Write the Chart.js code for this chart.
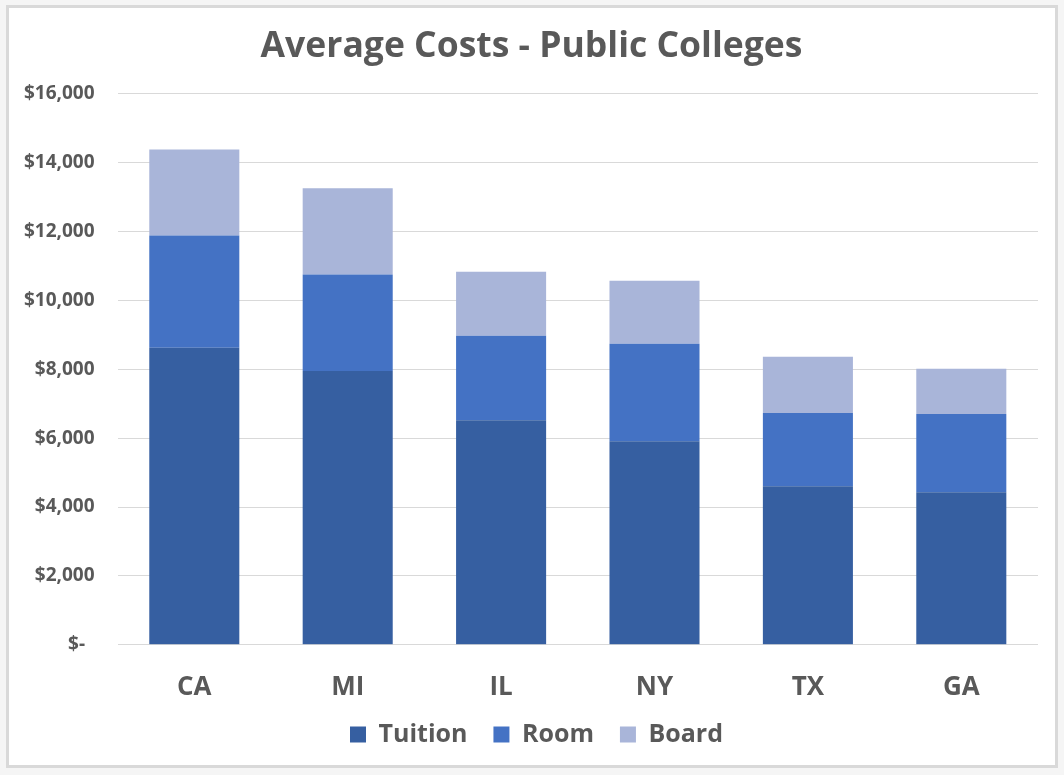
<!DOCTYPE html>
<html>
<head>
<meta charset="utf-8">
<script src="https://cdn.jsdelivr.net/npm/chart.js@4.4.1/dist/chart.umd.min.js"></script>
<style>
html,body{margin:0;padding:0;background:#f5f5f5;width:1064px;height:775px;overflow:hidden;}
#frame{position:absolute;left:6px;top:5px;width:1046px;height:757px;border:3px solid #d9d9d9;background:#fff;}
#c{position:absolute;left:0;top:0;}
</style>
</head>
<body>
<div id="frame"></div>
<canvas id="c" width="1064" height="775"></canvas>
<script>
const categories = ["CA", "MI", "IL", "NY", "TX", "GA"];
const tuition = [8620, 7950, 6520, 5910, 4600, 4430];
const room = [3260, 2800, 2450, 2830, 2130, 2270];
const board = [2500, 2500, 1860, 1830, 1630, 1310];
const yTicks = [0, 2000, 4000, 6000, 8000, 10000, 12000, 14000, 16000];

const FONT = "'Open Sans', 'Noto Sans', sans-serif";
const GREY = "#595959";

// nudge the legend and title blocks to match the reference placement
const blockNudge = {
  id: 'blockNudge',
  afterLayout(chart) {
    const lg = chart.legend;
    if (lg) {
      lg.top -= 26; lg.bottom -= 26;
      lg.left += 17; lg.right += 17;
    }
    const tt = chart.titleBlock;
    if (tt) { tt.left += 12; tt.right += 12; }
  }
};

new Chart(document.getElementById('c'), {
  type: 'bar',
  data: {
    labels: categories,
    datasets: [
      {label: 'Tuition', data: tuition, backgroundColor: '#365fa1'},
      {label: 'Room', data: room, backgroundColor: '#4472c4'},
      {label: 'Board', data: board, backgroundColor: '#a9b5d9'}
    ]
  },
  plugins: [blockNudge],
  options: {
    responsive: false,
    animation: false,
    categoryPercentage: 0.587,
    barPercentage: 1.0,
    layout: {padding: {left: 1, right: 26, top: 11, bottom: -8}},
    plugins: {
      title: {
        display: true,
        text: 'Average Costs - Public Colleges',
        color: GREY,
        font: {family: FONT, size: 35.5, weight: 'bold'},
        padding: {top: 15, bottom: 25}
      },
      legend: {
        position: 'bottom',
        labels: {
          color: GREY,
          boxWidth: 16, boxHeight: 16,
          padding: 26,
          font: {family: FONT, size: 25, weight: 'bold'}
        }
      },
      tooltip: {enabled: false}
    },
    scales: {
      x: {
        stacked: true,
        grid: {display: false},
        border: {display: false},
        ticks: {color: GREY, padding: 19, font: {family: FONT, size: 26, weight: 'bold'}}
      },
      y: {
        stacked: true,
        min: 0, max: 16000,
        afterBuildTicks: (axis) => { axis.ticks = yTicks.map(v => ({value: v})); },
        grid: {color: '#d9d9d9', lineWidth: 1, drawTicks: false},
        border: {display: false},
        ticks: {
          color: GREY, padding: 23,
          font: {family: FONT, size: 19, weight: 'bold'},
          callback: (v) => v === 0 ? '$-\u2002' : '$' + v.toLocaleString('en-US')
        }
      }
    }
  }
});
</script>
</body>
</html>
